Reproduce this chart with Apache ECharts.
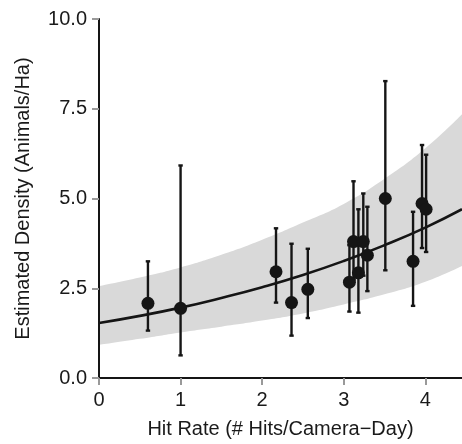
<!DOCTYPE html>
<html>
<head>
<meta charset="utf-8">
<script src="https://cdn.jsdelivr.net/npm/echarts@6/dist/echarts.min.js"></script>
<style>html,body{margin:0;padding:0;background:#fff;}#c{width:462px;height:444px;}</style>
</head>
<body>
<div id="c"></div>
<script>
// Observations: hit rate, estimated density, lower and upper error bar ends
var hitRate  = [0.60, 1.00, 2.17, 2.36, 2.56, 3.07, 3.12, 3.18, 3.24, 3.29, 3.51, 3.85, 3.96, 4.01];
var density  = [2.08, 1.94, 2.96, 2.10, 2.47, 2.67, 3.80, 2.93, 3.80, 3.42, 5.00, 3.25, 4.86, 4.70];
var densLow  = [1.32, 0.63, 2.10, 1.18, 1.67, 1.85, 2.75, 1.82, 2.85, 2.42, 3.00, 2.01, 3.62, 3.51];
var densHigh = [3.25, 5.92, 4.17, 3.74, 3.60, 3.70, 5.48, 4.70, 5.14, 4.77, 8.27, 4.63, 6.49, 6.22];

// Fitted curve and confidence band
var curveX    = [0, 0.5, 1, 1.5, 2, 2.5, 3, 3.5, 4, 4.45];
var curveFit  = [1.53, 1.73, 1.96, 2.23, 2.53, 2.87, 3.26, 3.70, 4.19, 4.70];
var bandLow   = [0.92, 1.09, 1.27, 1.43, 1.60, 1.80, 2.05, 2.33, 2.68, 3.12];
var bandHigh  = [2.56, 2.80, 3.08, 3.43, 3.85, 4.33, 4.85, 5.55, 6.40, 7.35];

var xTicks = [0, 1, 2, 3, 4];
var yTicks = [0, 2.5, 5, 7.5, 10];

var FONT = '"Liberation Sans", Arial, Helvetica, sans-serif';
var INK = '#151515';

var chart = echarts.init(document.getElementById('c'));

var pts = hitRate.map(function (x, i) { return [x, density[i]]; });
var bars = hitRate.map(function (x, i) { return [x, densLow[i], densHigh[i]]; });
var fit = curveX.map(function (x, i) { return [x, curveFit[i]]; });
var bLow = curveX.map(function (x, i) { return [x, bandLow[i]]; });
var bHigh = curveX.map(function (x, i) { return [x, bandHigh[i]]; });

chart.setOption({
  animation: false,
  backgroundColor: '#fff',
  grid: { left: 99, right: 0, top: 19, bottom: 63, containLabel: false },
  xAxis: {
    type: 'value', min: 0, max: 4.45, interval: 1, z: 10,
    name: 'Hit Rate (# Hits/Camera\u2212Day)',
    nameLocation: 'middle', nameGap: 41,
    nameTextStyle: { fontFamily: FONT, fontSize: 20, color: '#1a1a1a' },
    axisLine: { show: true, onZero: false, lineStyle: { color: INK, width: 2 } },
    axisTick: { show: true, length: 7, customValues: xTicks, lineStyle: { color: '#999', width: 2 } },
    axisLabel: { customValues: xTicks, margin: 12, fontFamily: FONT, fontSize: 20, color: '#1a1a1a' },
    splitLine: { show: false }
  },
  yAxis: {
    type: 'value', min: 0, max: 10, interval: 2.5, z: 10,
    name: 'Estimated Density (Animals/Ha)',
    nameLocation: 'middle', nameGap: 66,
    nameTextStyle: { fontFamily: FONT, fontSize: 20, color: '#1a1a1a' },
    axisLine: { show: true, onZero: false, lineStyle: { color: INK, width: 2 } },
    axisTick: { show: true, length: 7, customValues: yTicks, lineStyle: { color: '#999', width: 2 } },
    axisLabel: { customValues: yTicks, margin: 12, fontFamily: FONT, fontSize: 20, color: '#1a1a1a',
      formatter: function (v) { return v.toFixed(1); } },
    splitLine: { show: false }
  },
  series: [
    {
      type: 'line', data: bHigh, smooth: true, symbol: 'none',
      lineStyle: { opacity: 0 }, areaStyle: { color: '#d9d9d9', opacity: 1, origin: 'start' }, silent: true, z: 1
    },
    {
      type: 'line', data: bLow, smooth: true, symbol: 'none',
      lineStyle: { opacity: 0 }, areaStyle: { color: '#ffffff', opacity: 1, origin: 'start' }, silent: true, z: 2
    },
    {
      type: 'line', data: fit, smooth: true, symbol: 'none',
      lineStyle: { color: INK, width: 2.6 }, z: 3
    },
    {
      type: 'custom', data: bars, z: 4,
      renderItem: function (params, api) {
        var x = api.value(0);
        var lo = api.coord([x, api.value(1)]);
        var hi = api.coord([x, api.value(2)]);
        var c = 2.2;
        return {
          type: 'group',
          children: [
            { type: 'line', shape: { x1: lo[0], y1: lo[1], x2: hi[0], y2: hi[1] }, style: { stroke: INK, lineWidth: 2.4 } },
            { type: 'line', shape: { x1: hi[0] - c, y1: hi[1], x2: hi[0] + c, y2: hi[1] }, style: { stroke: INK, lineWidth: 2.4 } },
            { type: 'line', shape: { x1: lo[0] - c, y1: lo[1], x2: lo[0] + c, y2: lo[1] }, style: { stroke: INK, lineWidth: 2.4 } }
          ]
        };
      }
    },
    {
      type: 'scatter', data: pts, symbol: 'circle', symbolSize: 13,
      itemStyle: { color: INK, opacity: 1 }, z: 5
    }
  ]
});
</script>
</body>
</html>
